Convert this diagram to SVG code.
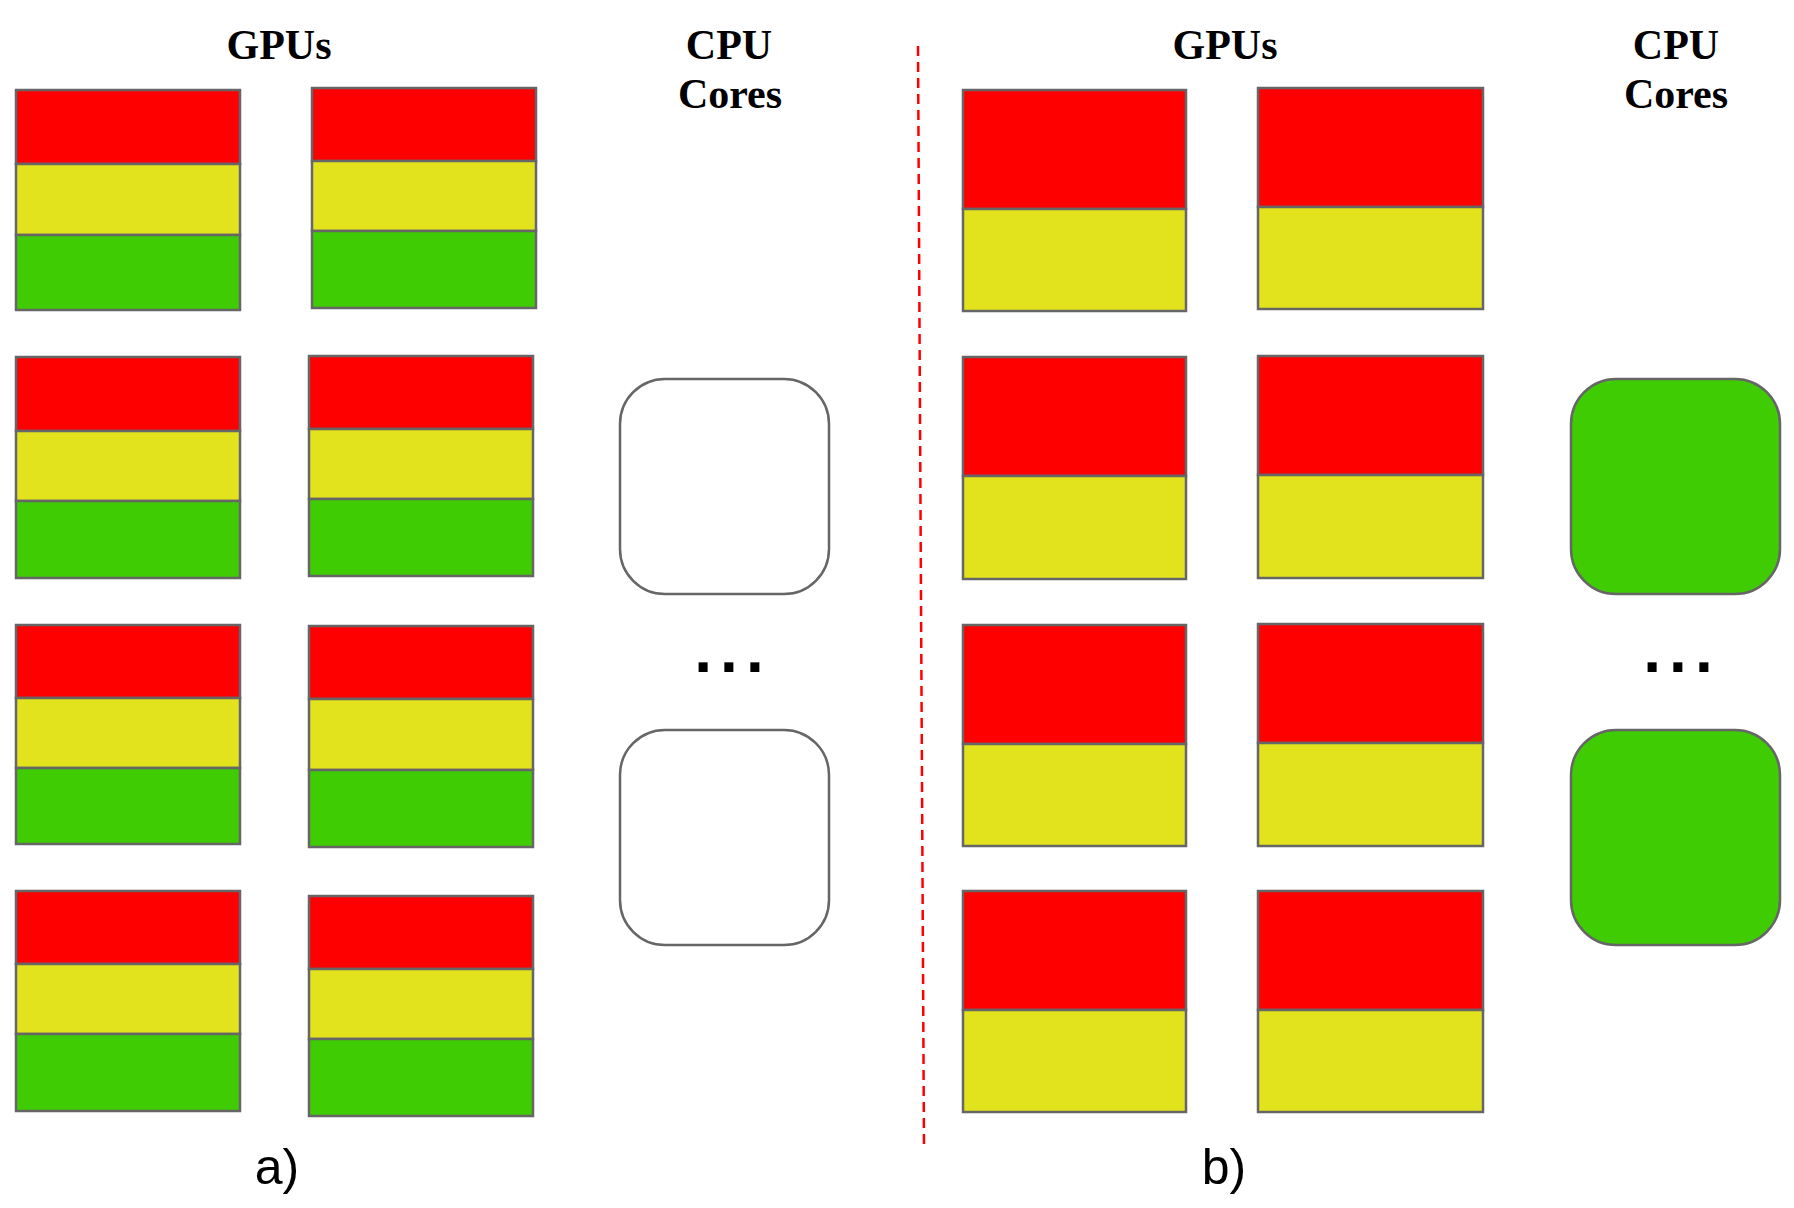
<svg xmlns="http://www.w3.org/2000/svg" width="1794" height="1208" viewBox="0 0 1794 1208">
<style>
.r{fill:#ff0000;stroke:#666666;stroke-width:2.5}
.y{fill:#e2e31c;stroke:#666666;stroke-width:2.5}
.g{fill:#3fcc03;stroke:#666666;stroke-width:2.5}
.core{stroke:#666666;stroke-width:2.5}
.h{font-family:"Liberation Serif","Times New Roman",serif;font-weight:bold;font-size:42px;text-anchor:middle;fill:#000}
.lab{font-family:"Liberation Sans",Arial,sans-serif;font-size:50px;text-anchor:middle;fill:#000}
.dots{font-family:"Liberation Sans",Arial,sans-serif;font-weight:bold;font-size:64px;text-anchor:middle;fill:#000;letter-spacing:8px}
</style>
<rect width="1794" height="1208" fill="#ffffff"/>

<!-- headers -->
<text class="h" x="279" y="59">GPUs</text>
<text class="h" x="729" y="59">CPU</text>
<text class="h" x="730" y="108">Cores</text>
<text class="h" x="1225" y="59">GPUs</text>
<text class="h" x="1676" y="59">CPU</text>
<text class="h" x="1676" y="108">Cores</text>

<!-- panel a: GPUs -->
<g id="a-gpu-1-1"><rect class="r" x="16" y="90" width="224" height="74"/><rect class="y" x="16" y="164" width="224" height="71"/><rect class="g" x="16" y="235" width="224" height="75"/></g>
<g id="a-gpu-1-2"><rect class="r" x="312" y="88" width="224" height="73"/><rect class="y" x="312" y="161" width="224" height="70"/><rect class="g" x="312" y="231" width="224" height="77"/></g>
<g id="a-gpu-2-1"><rect class="r" x="16" y="357" width="224" height="74"/><rect class="y" x="16" y="431" width="224" height="70"/><rect class="g" x="16" y="501" width="224" height="77"/></g>
<g id="a-gpu-2-2"><rect class="r" x="309" y="356" width="224" height="73"/><rect class="y" x="309" y="429" width="224" height="70"/><rect class="g" x="309" y="499" width="224" height="77"/></g>
<g id="a-gpu-3-1"><rect class="r" x="16" y="625" width="224" height="73"/><rect class="y" x="16" y="698" width="224" height="70"/><rect class="g" x="16" y="768" width="224" height="76"/></g>
<g id="a-gpu-3-2"><rect class="r" x="309" y="626" width="224" height="73"/><rect class="y" x="309" y="699" width="224" height="71"/><rect class="g" x="309" y="770" width="224" height="77"/></g>
<g id="a-gpu-4-1"><rect class="r" x="16" y="891" width="224" height="73"/><rect class="y" x="16" y="964" width="224" height="70"/><rect class="g" x="16" y="1034" width="224" height="77"/></g>
<g id="a-gpu-4-2"><rect class="r" x="309" y="896" width="224" height="73"/><rect class="y" x="309" y="969" width="224" height="70"/><rect class="g" x="309" y="1039" width="224" height="77"/></g>

<!-- panel a: CPU cores -->
<g id="a-core-1"><rect class="core" x="620" y="379" width="209" height="215" rx="45" fill="#ffffff"/></g>
<g id="a-core-2"><rect class="core" x="620" y="730" width="209" height="215" rx="45" fill="#ffffff"/></g>
<text class="dots" x="733" y="672">...</text>

<!-- divider -->
<g id="connectors">
<line x1="918" y1="46" x2="924" y2="1150" stroke="#ff0000" stroke-width="2.5" stroke-dasharray="10,6"/>
</g>

<!-- panel b: GPUs -->
<g id="b-gpu-1-1"><rect class="r" x="963" y="90" width="223" height="119"/><rect class="y" x="963" y="209" width="223" height="102"/></g>
<g id="b-gpu-1-2"><rect class="r" x="1258" y="88" width="225" height="119"/><rect class="y" x="1258" y="207" width="225" height="102"/></g>
<g id="b-gpu-2-1"><rect class="r" x="963" y="357" width="223" height="119"/><rect class="y" x="963" y="476" width="223" height="103"/></g>
<g id="b-gpu-2-2"><rect class="r" x="1258" y="356" width="225" height="119"/><rect class="y" x="1258" y="475" width="225" height="103"/></g>
<g id="b-gpu-3-1"><rect class="r" x="963" y="625" width="223" height="119"/><rect class="y" x="963" y="744" width="223" height="102"/></g>
<g id="b-gpu-3-2"><rect class="r" x="1258" y="624" width="225" height="119"/><rect class="y" x="1258" y="743" width="225" height="103"/></g>
<g id="b-gpu-4-1"><rect class="r" x="963" y="891" width="223" height="119"/><rect class="y" x="963" y="1010" width="223" height="102"/></g>
<g id="b-gpu-4-2"><rect class="r" x="1258" y="891" width="225" height="119"/><rect class="y" x="1258" y="1010" width="225" height="102"/></g>

<!-- panel b: CPU cores -->
<g id="b-core-1"><rect class="core" x="1571" y="379" width="209" height="215" rx="45" fill="#3fcc03"/></g>
<g id="b-core-2"><rect class="core" x="1571" y="730" width="209" height="215" rx="45" fill="#3fcc03"/></g>
<text class="dots" x="1682" y="672">...</text>

<!-- captions -->
<text class="lab" x="277" y="1184">a)</text>
<text class="lab" x="1224" y="1184">b)</text>
</svg>
